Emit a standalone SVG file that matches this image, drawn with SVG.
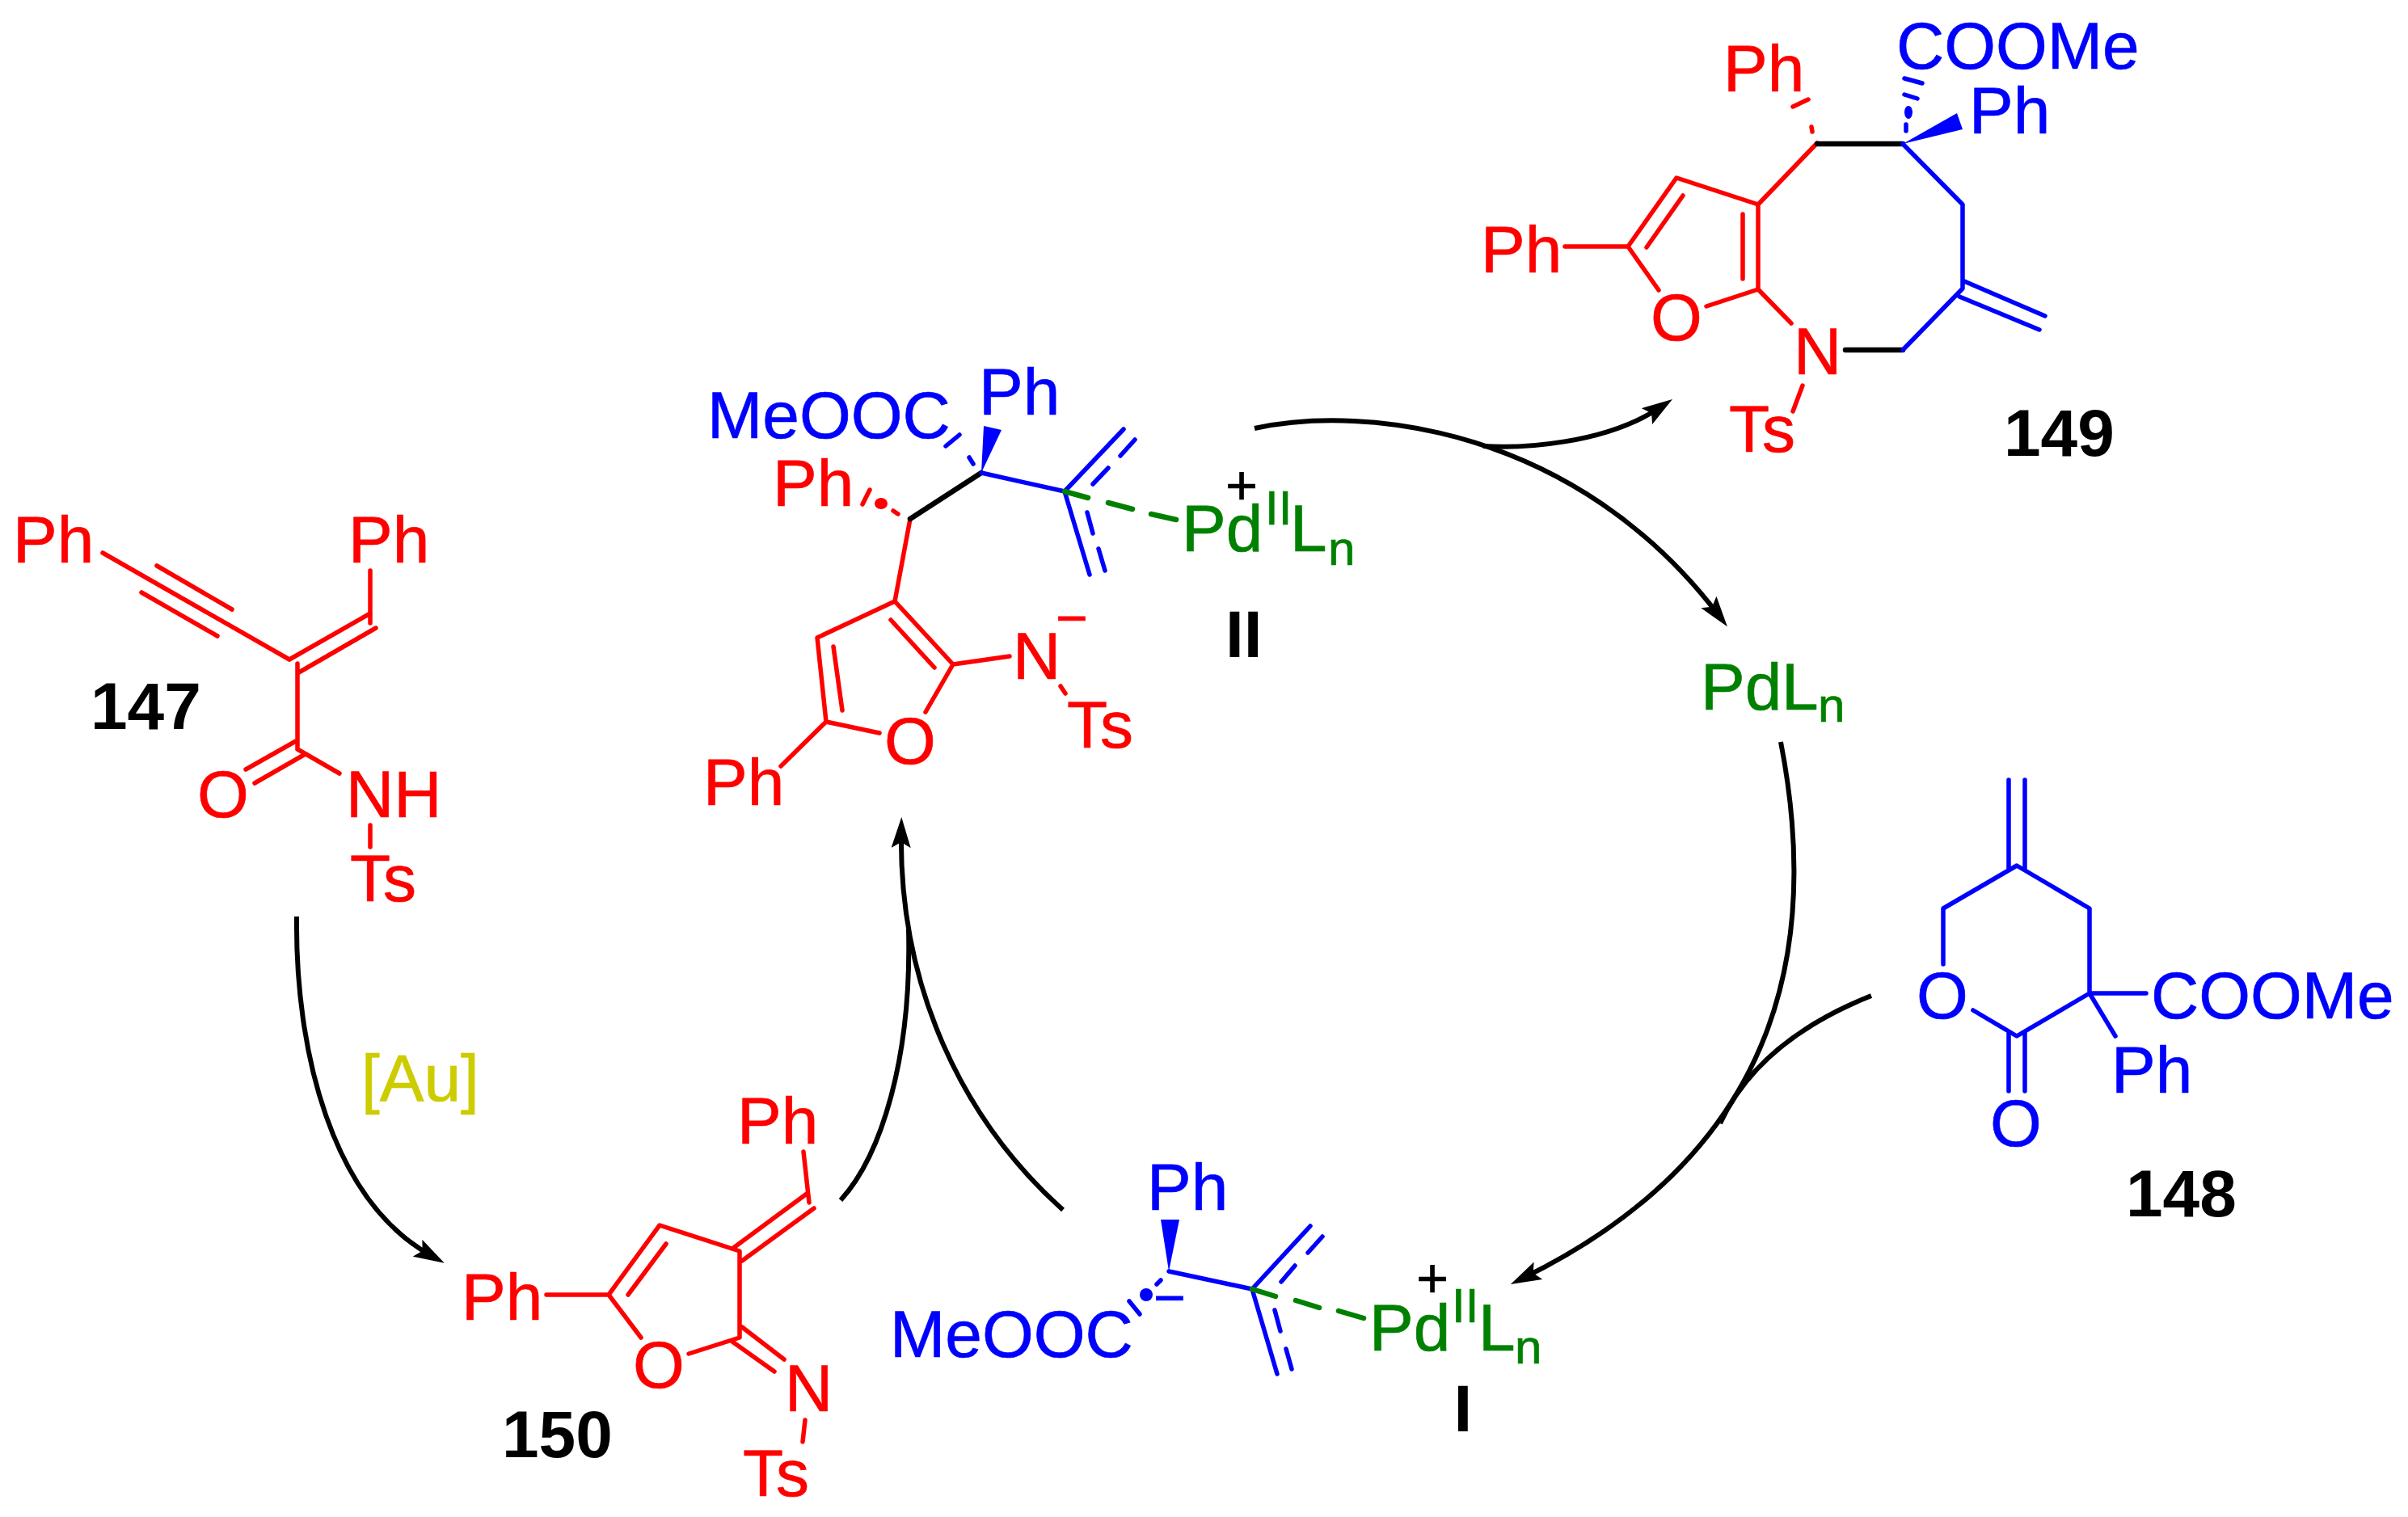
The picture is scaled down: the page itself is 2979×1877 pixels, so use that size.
<svg xmlns="http://www.w3.org/2000/svg" width="2979" height="1877" viewBox="0 0 2979 1877">
<style>
text{font-family:"Liberation Sans",Arial,sans-serif;font-size:82px;stroke-width:.7}
.bd{font-weight:bold;fill:#000}
.sm{font-size:60px}
.ch{font-size:68px}
.tr{fill:#f00;stroke:#f00}.tb{fill:#00f;stroke:#00f}.tg{fill:#008000;stroke:#008000}.tk{fill:#000;stroke:#000}.ty{fill:#cc0;stroke:#cc0}
.m{text-anchor:middle}
path{fill:none;stroke-width:5.5;stroke-linecap:round;stroke-linejoin:round}
.r{stroke:#f00}.b{stroke:#00f}.g{stroke:#008000;stroke-width:6.5}.k{stroke:#000;stroke-width:6.5}
.fb{fill:#00f;stroke:none}.fr{fill:#f00;stroke:none}
#connectors path{stroke:#000;stroke-width:6;stroke-linecap:butt}
</style>
<defs>
<marker id="ah" markerUnits="userSpaceOnUse" markerWidth="40" markerHeight="24" refX="20" refY="12" orient="auto"><path d="M38 12L0 0L7 12L0 24Z" style="fill:#000;stroke:none"/></marker>
</defs>
<rect width="2979" height="1877" fill="#fff"/>
<g id="connectors">
<path d="M367 1134C365 1300 410 1485 534 1554" marker-end="url(#ah)"/>
<path d="M1552 530C1690 500 1950 530 2126 761" marker-end="url(#ah)"/>
<path d="M1835 552C1880 555 1985 550 2054 504" marker-end="url(#ah)"/>
<path d="M2203 918C2250 1160 2212 1420 1885 1581" marker-end="url(#ah)"/>
<path d="M2315 1232C2240 1262 2165 1310 2128 1390"/>
<path d="M1315 1497C1190 1385 1112 1220 1115 1029" marker-end="url(#ah)"/>
<path d="M1040 1485C1090 1430 1128 1310 1124 1150"/>
</g>
<g id="node-147">
<path class="r" d="M127 684L358 816M194 700L287 754M175 733L269 787M358 816L458 759M368 833L465 777M458 706V771M368 821V927M366 917L304 952M376 934L315 969M368 927L420 957M458 1021V1048"/>
<text class="tr" x="16" y="696">Ph</text><text class="tr" x="431" y="696">Ph</text>
<text class="tr m" x="276" y="1011">O</text><text class="tr" x="428" y="1011">NH</text><text class="tr" x="433" y="1115">Ts</text>
<text class="bd" x="112" y="902">147</text>
</g>
<g id="label-au"><text class="ty" x="447" y="1362">[Au]</text></g>
<g id="node-150">
<path class="r" d="M676 1602H753L816 1516L915 1548V1655L852 1675M753 1602L793 1655M824 1539L777 1602M906 1545L998 1477M918 1560L1007 1495M994 1425L1001 1488M918 1642L970 1682M906 1660L958 1697M996 1757L993 1784"/>
<text class="tr" x="571" y="1633">Ph</text><text class="tr m" x="815" y="1717">O</text><text class="tr" x="912" y="1415">Ph</text>
<text class="tr" x="971" y="1746">N</text><text class="tr" x="919" y="1851">Ts</text>
<text class="bd" x="621" y="1803">150</text>
</g>
<g id="node-II">
<path class="r" d="M1126 642L1107 744L1011 789L1022 893L1088 907M1107 744L1179 822L1145 881M1102 767L1156 826M1031 800L1042 879M1179 822L1249 812M1312 849L1318 858M1022 893L966 948M1067 624L1076 606M1105 632L1111 636"/>
<ellipse class="fr" cx="1090" cy="623" rx="8" ry="7"/>
<path class="k" d="M1214 585L1126 642"/>
<path class="b" d="M1214 585L1317 608L1390 531M1352 599L1371 579M1386 564L1404 544M1317 608L1348 711M1345 634L1352 660M1359 679L1367 706M1170 552L1187 538M1199 566L1204 574"/>
<path class="fb" d="M1214 585L1217 527L1239 532Z"/>
<path class="g" d="M1317 608L1346 616M1371 622L1401 630M1424 636L1455 643"/>
<text class="tb" x="875" y="542">MeOOC</text><text class="tb" x="1211" y="513">Ph</text><text class="tr" x="956" y="626">Ph</text>
<text class="tk ch m" x="1536" y="624">+</text>
<text class="tg" x="1462" y="682">Pd</text><text class="tg sm" x="1565" y="649">II</text><text class="tg" x="1596" y="682">L</text><text class="tg sm" x="1643" y="699">n</text>
<text class="tr" x="1253" y="840">N</text><text class="tr ch m" x="1326" y="788">−</text><text class="tr" x="1320" y="925">Ts</text>
<text class="tr m" x="1126" y="945">O</text><text class="tr" x="870" y="996">Ph</text>
<text class="bd" x="1516" y="813">II</text>
</g>
<g id="node-149">
<path class="r" d="M2248 177L2175 253L2074 220L2014 305L2052 359M2175 253V358L2111 379M2156 265V345M2082 242L2037 306M2175 358L2216 400M1936 305H2014M2230 477L2218 509M2241 157L2242 163M2218 132L2237 123"/>
<path class="k" d="M2248 178H2354M2354 433H2283"/>
<path class="b" d="M2354 178L2428 253V357L2354 433M2430 348L2530 391M2424 367L2523 408M2356 97L2378 103M2356 117L2372 122M2358 154L2358 162"/>
<ellipse class="fb" cx="2361" cy="139" rx="5" ry="8"/>
<path class="fb" d="M2354 178L2421 140L2428 160Z"/>
<text class="tb" x="2346" y="85">COOMe</text><text class="tr" x="2132" y="113">Ph</text><text class="tb" x="2436" y="165">Ph</text>
<text class="tr" x="1832" y="337">Ph</text><text class="tr m" x="2074" y="421">O</text><text class="tr" x="2219" y="463">N</text><text class="tr" x="2139" y="559">Ts</text>
<text class="bd" x="2479" y="564">149</text>
</g>
<g id="node-PdLn">
<text class="tg" x="2104" y="878">Pd</text><text class="tg" x="2204" y="878">L</text><text class="tg sm" x="2249" y="893">n</text>
</g>
<g id="node-148">
<path class="b" d="M2404 1193V1124L2495 1071L2585 1124V1229L2495 1282L2441 1250M2485 965V1075M2505 965V1075M2485 1278V1350M2505 1278V1350M2585 1229H2655M2585 1229L2617 1282"/>
<text class="tb m" x="2403" y="1260">O</text><text class="tb m" x="2494" y="1418">O</text><text class="tb" x="2661" y="1260">COOMe</text><text class="tb" x="2612" y="1352">Ph</text>
<text class="bd" x="2630" y="1505">148</text>
</g>
<g id="node-I">
<path class="b" d="M1446 1573L1549 1595L1621 1517M1585 1586L1602 1566M1618 1550L1636 1530M1549 1595L1580 1700M1577 1621L1584 1647M1591 1669L1598 1694M1431 1589L1436 1584M1397 1610L1410 1626"/>
<ellipse class="fb" cx="1418" cy="1602" rx="8" ry="8"/>
<path class="fb" d="M1446 1573L1436 1509L1459 1509Z"/>
<path class="g" d="M1549 1595L1578 1604M1603 1609L1632 1618M1656 1622L1687 1631"/>
<text class="tb" x="1419" y="1497">Ph</text><text class="tb" x="1101" y="1679">MeOOC</text>
<text class="tb ch m" x="1447" y="1629">−</text>
<text class="tk ch m" x="1772" y="1605">+</text>
<text class="tg" x="1694" y="1671">Pd</text><text class="tg sm" x="1796" y="1636">II</text><text class="tg" x="1829" y="1671">L</text><text class="tg sm" x="1874" y="1687">n</text>
<text class="bd m" x="1810" y="1771">I</text>
</g>
</svg>
